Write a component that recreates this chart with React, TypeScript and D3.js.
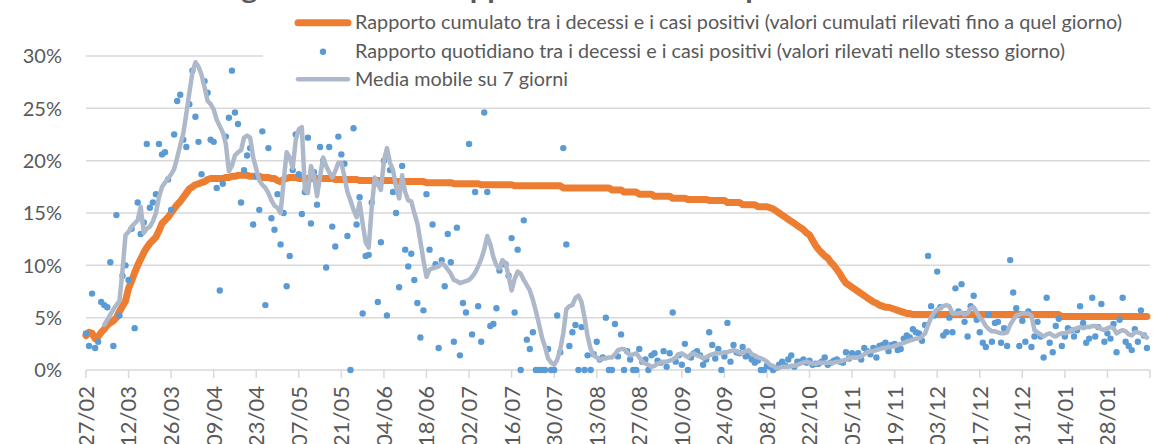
import * as d3 from 'd3'

// first day of the series, one value per day after it
const firstDay = '2020-02-27'

// daily ratio deaths / new positives (%), one dot per day
const dailyRatio = [
  3.5, 2.3, 7.3, 2.1, 2.7, 6.5, 6.2, 6.0, 10.3, 2.3,
  14.8, 5.2, 9.0, 10.0, 8.6, 13.5, 4.0, 16.0, 13.0, 14.1,
  21.6, 15.5, 16.0, 16.8, 21.6, 20.6, 20.8, 18.2, 15.3, 22.5,
  25.7, 26.3, 22.0, 21.3, 25.4, 28.6, 24.2, 21.8, 18.7, 27.6,
  26.5, 22.0, 21.8, 17.4, 7.6, 17.8, 22.3, 24.1, 28.6, 24.6,
  23.5, 16.0, 19.1, 20.5, 21.2, 13.9, 18.5, 15.3, 22.8, 6.2,
  21.2, 14.5, 13.4, 16.8, 12.0, 15.0, 8.0, 10.9, 19.1, 22.5,
  18.7, 14.9, 17.0, 22.2, 14.0, 18.9, 15.8, 21.3, 20.0, 9.8,
  21.3, 13.7, 11.8, 22.3, 20.6, 19.7, 12.8, 0, 23.1, 13.9,
  16.5, 5.4, 10.9, 11.0, 16.0, 17.8, 6.5, 12.2, 20.0, 5.2,
  19.1, 17.0, 15.0, 7.9, 19.5, 11.5, 9.9, 11.1, 8.6, 6.4,
  3.1, 5.7, 16.8, 11.5, 13.9, 10.1, 2.1, 10.5, 8.0, 13.0,
  10.3, 2.7, 13.6, 1.4, 6.4, 5.5, 21.6, 3.4, 17.0, 6.1,
  2.7, 24.6, 17.0, 4.2, 4.4, 5.9, 9.5, 10.1, 10.1, 9.0,
  12.6, 5.5, 11.5, 0, 14.3, 2.9, 2.0, 3.6, 0, 0,
  0, 0, 2.0, 0, 0, 5.2, 1.7, 21.2, 12.0, 2.3,
  3.6, 4.3, 0, 4.1, 0, 1.4, 0, 1.5, 2.7, 1.0,
  1.2, 5.0, 0, 0, 4.4, 1.3, 3.4, 0, 1.8, 1.0,
  0, 0, 2.0, 0.8, 1.0, 0, 1.4, 1.6, 0.9, 0.7,
  1.8, 0.3, 1.6, 5.5, 0.8, 1.4, 0.5, 2.5, 0, 1.2,
  1.6, 1.8, 1.4, 0.5, 1.0, 3.6, 2.4, 1.1, 2.0, 0,
  1.3, 4.5, 0.8, 2.4, 1.7, 1.6, 2.2, 1.3, 1.4, 1.0,
  0.7, 0.9, 0, 0, 0.4, 0.3, 0, 0.2, 0.5, 0.8,
  0.4, 1.0, 1.4, 0.3, 0.8, 0.8, 1.0, 0.7, 0.9, 0.5,
  0.6, 0.6, 0.8, 1.2, 0.5, 0.7, 0.9, 1.0, 0.8, 0.7,
  1.7, 1.1, 1.6, 1.3, 1.6, 1.0, 2.1, 1.8, 1.5, 2.1,
  1.2, 2.3, 2.4, 2.6, 1.8, 2.4, 2.5, 1.9, 2.0, 3.0,
  3.3, 3.1, 3.9, 3.6, 3.5, 2.8, 4.3, 10.9, 6.1, 5.2,
  9.4, 6.0, 3.3, 3.6, 5.0, 3.6, 7.8, 5.6, 8.2, 4.6,
  3.2, 6.1, 7.1, 4.8, 3.6, 2.6, 2.2, 5.3, 2.7, 4.5,
  4.6, 2.6, 4.0, 2.3, 10.5, 7.4, 5.9, 2.3, 4.7, 2.7,
  5.6, 2.2, 3.2, 4.6, 3.2, 1.2, 6.9, 2.6, 1.7, 4.2,
  4.9, 2.3, 3.2, 4.0, 3.8, 3.2, 3.8, 6.1, 4.5, 2.6,
  3.0, 6.9, 3.2, 4.1, 6.3, 2.7, 3.5, 3.0, 4.4, 1.7,
  4.8, 6.9, 2.7, 2.3, 1.9, 3.9, 2.7, 5.7, 3.3, 2.1,
]

// cumulative ratio (%)
const cumulativeRatio = [
  3.3, 3.6, 3.5, 3.0, 3.2, 3.6, 3.9, 4.3, 4.5, 4.7,
  5.0, 5.6, 6.1, 6.6, 7.8, 8.5, 9.3, 10.0, 10.6, 11.2,
  11.7, 12.1, 12.4, 12.7, 13.3, 14.0, 14.3, 14.6, 15.0, 15.4,
  15.8, 16.1, 16.5, 16.9, 17.3, 17.5, 17.7, 17.8, 17.9, 18.0,
  18.2, 18.3, 18.3, 18.3, 18.3, 18.3, 18.4, 18.4, 18.5, 18.5,
  18.6, 18.6, 18.6, 18.6, 18.5, 18.5, 18.5, 18.5, 18.4, 18.4,
  18.4, 18.3, 18.3, 18.1, 18.0, 18.2, 18.3, 18.4, 18.4, 18.4,
  18.3, 18.3, 18.3, 18.3, 18.3, 18.3, 18.3, 18.3, 18.3, 18.3,
  18.3, 18.3, 18.2, 18.2, 18.2, 18.2, 18.2, 18.2, 18.2, 18.2,
  18.1, 18.1, 18.1, 18.1, 18.1, 18.1, 18.1, 18.1, 18.1, 18.1,
  18.1, 18.1, 18.0, 18.0, 18.0, 18.0, 18.0, 18.0, 18.0, 18.0,
  18.0, 18.0, 17.9, 17.9, 17.9, 17.9, 17.9, 17.9, 17.9, 17.9,
  17.9, 17.8, 17.8, 17.8, 17.8, 17.8, 17.8, 17.8, 17.8, 17.8,
  17.7, 17.7, 17.7, 17.7, 17.7, 17.7, 17.7, 17.7, 17.7, 17.7,
  17.7, 17.6, 17.6, 17.6, 17.6, 17.6, 17.6, 17.6, 17.6, 17.6,
  17.6, 17.6, 17.6, 17.6, 17.6, 17.6, 17.6, 17.4, 17.4, 17.4,
  17.4, 17.4, 17.4, 17.4, 17.4, 17.4, 17.4, 17.4, 17.4, 17.4,
  17.4, 17.4, 17.4, 17.2, 17.2, 17.2, 17.2, 17.0, 17.0, 17.0,
  17.0, 17.0, 16.8, 16.8, 16.8, 16.8, 16.8, 16.6, 16.6, 16.6,
  16.6, 16.6, 16.6, 16.4, 16.4, 16.4, 16.4, 16.4, 16.3, 16.3,
  16.3, 16.3, 16.3, 16.3, 16.3, 16.2, 16.2, 16.2, 16.2, 16.2,
  16.2, 16.0, 16.0, 16.0, 16.0, 16.0, 15.8, 15.8, 15.8, 15.8,
  15.8, 15.6, 15.6, 15.6, 15.6, 15.5, 15.4, 15.2, 15.0, 14.8,
  14.6, 14.4, 14.2, 14.0, 13.8, 13.6, 13.4, 13.1, 12.9, 12.4,
  11.9, 11.5, 11.2, 10.9, 10.7, 10.3, 10.0, 9.6, 9.2, 8.7,
  8.3, 8.1, 7.9, 7.7, 7.5, 7.3, 7.1, 6.9, 6.7, 6.5,
  6.4, 6.2, 6.1, 6.0, 6.0, 5.9, 5.8, 5.7, 5.6, 5.5,
  5.4, 5.4, 5.3, 5.3, 5.3, 5.3, 5.3, 5.3, 5.3, 5.3,
  5.3, 5.3, 5.3, 5.3, 5.3, 5.3, 5.3, 5.3, 5.3, 5.3,
  5.3, 5.3, 5.3, 5.3, 5.3, 5.3, 5.3, 5.3, 5.3, 5.3,
  5.3, 5.3, 5.3, 5.3, 5.3, 5.3, 5.3, 5.3, 5.3, 5.3,
  5.3, 5.3, 5.3, 5.3, 5.3, 5.3, 5.3, 5.3, 5.3, 5.3,
  5.3, 5.1, 5.1, 5.1, 5.1, 5.1, 5.1, 5.1, 5.1, 5.1,
  5.1, 5.1, 5.1, 5.1, 5.1, 5.1, 5.1, 5.1, 5.1, 5.1,
  5.1, 5.1, 5.1, 5.1, 5.1, 5.1, 5.1, 5.1, 5.1, 5.1,
]

// 7-day moving average (%), empty for the first six days
const movingAvg7 = [
  null, null, null, null, null, null, 4.3, 4.8, 5.3, 5.8,
  6.2, 6.6, 9.5, 12.9, 13.2, 13.7, 14.0, 14.3, 15.6, 13.1,
  13.5, 13.7, 14.2, 15.0, 16.5, 17.5, 17.9, 18.3, 18.7, 19.2,
  20.3, 21.5, 22.6, 24.5, 26.5, 28.4, 29.4, 29.0, 28.2, 27.0,
  25.7, 25.4, 24.9, 23.9, 23.3, 22.7, 21.6, 19.0, 19.5, 20.5,
  20.8, 21.0, 22.2, 22.4, 22.2, 20.3, 19.2, 18.1, 17.7, 17.4,
  16.9, 16.2, 15.7, 15.5, 15.0, 18.0, 20.8, 20.3, 19.3, 22.0,
  23.0, 23.2, 17.2, 16.9, 19.5, 18.5, 16.6, 18.5, 20.3, 19.5,
  18.9, 18.4, 19.0, 19.8, 19.8, 18.5, 17.0, 16.2, 15.3, 14.6,
  16.0, 14.0, 12.2, 11.7, 15.6, 18.4, 17.8, 17.2, 20.0, 21.2,
  19.8, 19.1, 17.5, 16.4, 18.6, 17.0, 16.2, 16.1, 15.0, 14.0,
  12.3, 10.5, 8.9, 9.6, 9.7, 9.8, 9.9, 10.2, 10.0, 9.6,
  9.2, 8.6, 8.5, 8.3, 8.4, 8.5, 8.6, 8.9, 9.3, 9.9,
  10.6, 11.5, 12.8, 12.0, 10.8, 10.0, 9.7, 10.5, 10.2, 9.0,
  7.6, 8.7, 9.4, 9.2, 8.6, 8.1, 7.6, 6.7, 5.6, 4.4,
  3.1, 2.2, 1.1, 0.7, 0.5, 1.0, 2.0, 3.5, 5.8, 6.1,
  6.2, 6.9, 7.1, 6.5, 5.0, 3.2, 2.0, 1.4, 1.2, 1.0,
  1.1, 1.1, 1.2, 1.2, 1.5, 1.9, 2.0, 2.0, 1.7, 1.4,
  1.5, 1.6, 1.2, 0.8, 0.6, 0.5, 0.3, 0.4, 0.6, 0.7,
  0.8, 0.8, 0.9, 1.0, 1.2, 1.5, 1.6, 1.4, 1.2, 1.5,
  1.6, 1.4, 1.3, 1.1, 1.2, 1.4, 1.5, 1.6, 1.6, 1.6,
  1.7, 1.7, 1.8, 1.9, 1.8, 1.6, 1.6, 1.8, 1.9, 1.5,
  1.4, 1.2, 1.1, 1.0, 0.8, 0.5, 0.4, 0.2, 0.2, 0.3,
  0.3, 0.3, 0.4, 0.4, 0.5, 0.6, 0.7, 0.8, 0.7, 0.6,
  0.6, 0.7, 0.7, 0.7, 0.7, 0.7, 0.7, 0.8, 0.8, 0.9,
  1.0, 1.1, 1.2, 1.2, 1.2, 1.3, 1.5, 1.7, 1.8, 1.8,
  1.9, 2.0, 2.1, 2.1, 2.2, 2.2, 2.3, 2.4, 2.5, 2.6,
  2.7, 2.8, 2.9, 3.0, 3.0, 3.2, 3.5, 4.3, 5.0, 5.5,
  5.8, 5.9, 6.1, 6.2, 6.1, 5.4, 5.4, 5.4, 5.5, 5.3,
  5.4, 5.9, 6.0, 5.5, 5.0, 4.7, 4.2, 3.9, 3.7, 3.7,
  3.6, 3.5, 3.5, 3.6, 4.3, 4.8, 5.2, 5.3, 5.4, 5.4,
  5.4, 5.2, 3.8, 3.6, 3.4, 3.2, 3.4, 3.5, 3.3, 3.2,
  3.4, 3.5, 3.5, 3.6, 3.8, 3.9, 4.0, 4.1, 4.0, 4.1,
  4.1, 4.2, 4.2, 4.1, 3.9, 3.8, 4.0, 4.1, 4.0, 3.5,
  3.7, 3.8, 3.7, 3.4, 3.3, 3.6, 3.6, 3.5, 3.3, 3.1,
]

const yTicks = [0, 5, 10, 15, 20, 25, 30]
const tickLabels = [
  '27/02', '12/03', '26/03', '09/04', '23/04', '07/05', '21/05', '04/06', '18/06',
  '02/07', '16/07', '30/07', '13/08', '27/08', '10/09', '24/09', '08/10', '22/10',
  '05/11', '19/11', '03/12', '17/12', '31/12', '14/01', '28/01',
]
const legendLabels = [
  'Rapporto cumulato tra i decessi e i casi positivi (valori cumulati rilevati fino a quel giorno)',
  'Rapporto quotidiano tra i decessi e i casi positivi (valori rilevati nello stesso giorno)',
  'Media mobile su 7 giorni',
]
const title = 'Andamento giornaliero del rapporto tra decessi e positivi'

const ORANGE = '#ED7D31'
const BLUE = '#5B9BD5'
const GREY_LINE = '#ADB9CA'
const GRID = '#D9D9D9'
const TEXT = '#595959'
const FONT = 'Lato, "Open Sans", sans-serif'

export default function App() {
  const W = 1161, H = 444
  const day0 = d3.utcParse('%Y-%m-%d')(firstDay) as Date
  const dates = dailyRatio.map((_, i) => d3.utcDay.offset(day0, i))
  const tickDates = d3.utcDay.range(day0, d3.utcDay.offset(day0, 351), 14)

  const x = d3.scaleUtc().domain([day0, d3.utcDay.offset(day0, 350)]).range([86, 1150])
  const y = d3.scaleLinear().domain([0, 30]).range([370, 56])

  const line = d3.line<number | null>()
    .defined(v => v != null)
    .x((_, i) => x(dates[i]))
    .y(v => y(v as number))

  const legendX = 355
  const legendRows = [22.7, 51.7, 79.3]
  const legendWidths = [767, 710, 213]

  return (
    <div style={{ position: 'absolute', left: 0, top: 0 }}>
      <svg width={W} height={H} style={{ display: 'block', background: '#fff' }} fontFamily={FONT}>
        {/* title, cut by the top edge: only descenders show */}
        <text x={75} y={-1.5} fontSize={26} fontWeight={700} fill={TEXT}
          textLength={770} lengthAdjust="spacingAndGlyphs">{title}</text>

        {/* gridlines */}
        {yTicks.map(t => (
          <line key={t} x1={86} x2={1150} y1={y(t)} y2={y(t)} stroke={GRID} strokeWidth={1.5} />
        ))}
        {yTicks.map(t => (
          <text key={'l' + t} x={62} y={y(t)} dy="0.36em" textAnchor="end" fontSize={20} fill={TEXT}>{t}%</text>
        ))}

        {/* x ticks + labels */}
        {tickDates.map((d, i) => (
          <g key={i}>
            <line x1={x(d)} x2={x(d)} y1={370} y2={378} stroke={GRID} strokeWidth={1.5} />
            {tickLabels[i] && (
              <text transform={`translate(${x(d)},386) rotate(-90)`} dy="0.36em" textAnchor="end"
                fontSize={22} fill={TEXT}>{tickLabels[i]}</text>
            )}
          </g>
        ))}

        {/* series */}
        <path d={line(cumulativeRatio) ?? ''} fill="none" stroke={ORANGE} strokeWidth={7}
          strokeLinejoin="round" strokeLinecap="round" />
        {dailyRatio.map((v, i) => (
          <circle key={i} cx={x(dates[i])} cy={y(v)} r={3.2} fill={BLUE} />
        ))}
        <path d={line(movingAvg7) ?? ''} fill="none" stroke={GREY_LINE} strokeWidth={4.5}
          strokeLinejoin="round" strokeLinecap="round" />

        {/* legend */}
        <rect x={263} y={4} width={898} height={92} fill="#fff" />
        <line x1={298} x2={348} y1={legendRows[0]} y2={legendRows[0]} stroke={ORANGE} strokeWidth={7} strokeLinecap="round" />
        <circle cx={323} cy={legendRows[1]} r={3.2} fill={BLUE} />
        <line x1={298} x2={348} y1={legendRows[2]} y2={legendRows[2]} stroke={GREY_LINE} strokeWidth={4.5} strokeLinecap="round" />
        {legendLabels.map((s, i) => (
          <text key={s} x={legendX} y={legendRows[i]} dy="0.34em" fontSize={18.5} fill={TEXT}
            textLength={legendWidths[i]} lengthAdjust="spacingAndGlyphs">{s}</text>
        ))}
      </svg>
    </div>
  )
}
